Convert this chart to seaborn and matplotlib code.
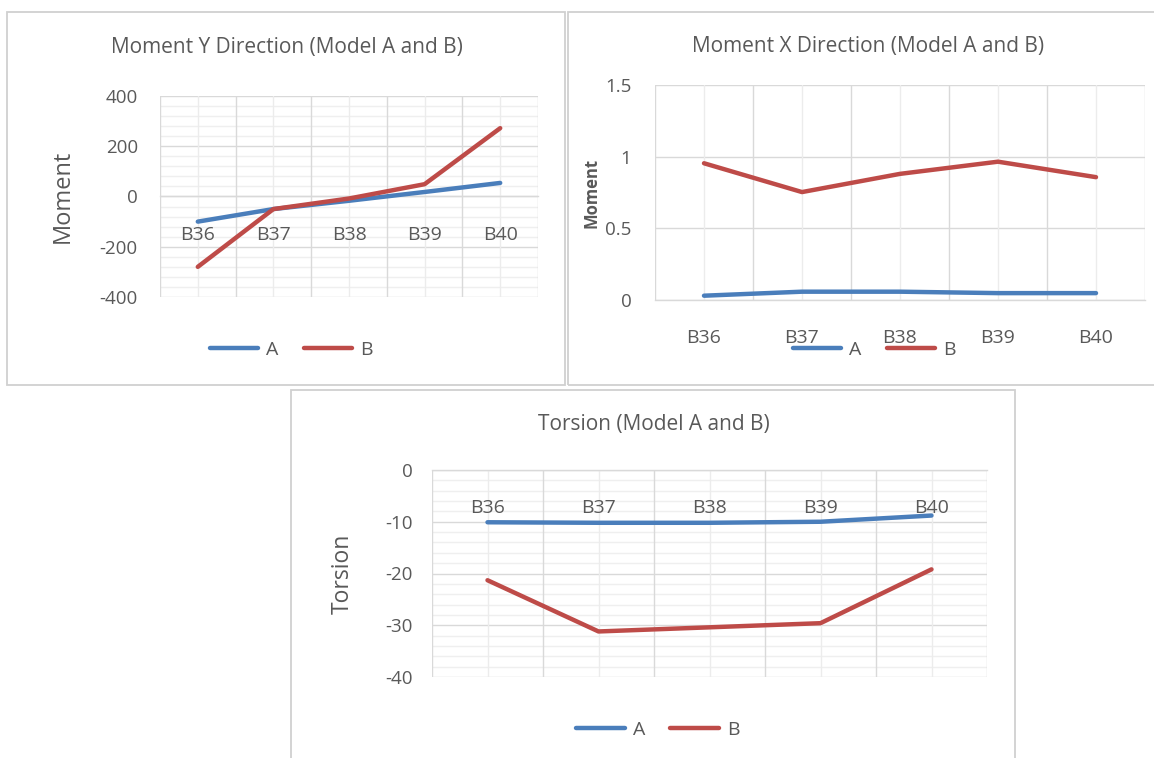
import numpy as np
import pandas as pd
import matplotlib
matplotlib.use("Agg")
import matplotlib.pyplot as plt
import seaborn as sns
from matplotlib.patches import Rectangle
from matplotlib.ticker import MultipleLocator, FixedLocator, FuncFormatter

# ---------------- data ----------------
beams = ["B36", "B37", "B38", "B39", "B40"]

moment_y_a = [-100, -50, -17, 18, 54]
moment_y_b = [-280, -50, -8, 49, 272]

moment_x_a = [0.03, 0.058, 0.058, 0.048, 0.048]
moment_x_b = [0.954, 0.753, 0.88, 0.965, 0.857]

torsion_a = [-10.1, -10.2, -10.2, -10.0, -8.8]
torsion_b = [-21.3, -31.2, -30.4, -29.6, -19.2]

BLUE = "#4a7ebb"
RED = "#be4b48"
TXT = "#595959"

sns.set_theme(style="white")
plt.rcParams["font.family"] = ["Open Sans", "DejaVu Sans"]

W, H = 1154, 758
fig = plt.figure(figsize=(W / 100, H / 100), dpi=100)


def px_rect(x0, y0, x1, y1):
    return [x0 / W, 1 - y1 / H, (x1 - x0) / W, (y1 - y0) / H]


# panel borders
for (x0, y0, x1, y1) in [(7, 12, 565, 385), (568, 12, 1160, 385), (291, 390, 1015, 762)]:
    r = px_rect(x0, y0, x1, y1)
    fig.add_artist(Rectangle((r[0], r[1]), r[2], r[3], transform=fig.transFigure,
                             fill=False, edgecolor="#d0d0d0", lw=1.3))


def make_panel(rect, a, b, title, title_xy, ylabel, ylabel_x, ylabel_kw,
               ylim, ymajor, yminor, legend_xy, ypad):
    ax = fig.add_axes(px_rect(*rect))
    df = pd.DataFrame({
        "beam": beams * 2,
        "value": list(a) + list(b),
        "model": ["A"] * len(a) + ["B"] * len(b),
    })
    sns.lineplot(data=df, x="beam", y="value", hue="model", sort=False,
                 palette={"A": BLUE, "B": RED}, lw=3.2, ax=ax, zorder=3)
    ax.set_xlim(-0.5, len(beams) - 0.5)
    ax.set_ylim(*ylim)
    ax.xaxis.set_minor_locator(FixedLocator(np.arange(-0.5, len(beams), 1.0)))
    ax.yaxis.set_major_locator(MultipleLocator(ymajor))
    if yminor:
        ax.yaxis.set_minor_locator(MultipleLocator(yminor))
        ax.grid(which="minor", axis="y", color="#efefef", lw=1)
    ax.grid(which="major", axis="y", color="#d9d9d9", lw=1)
    ax.grid(which="major", axis="x", color="#ececec", lw=1)
    ax.grid(which="minor", axis="x", color="#d9d9d9", lw=1)
    ax.set_axisbelow(True)
    # category labels sit on top of the horizontal gridlines
    ax.xaxis.set_zorder(1.0)
    ax.yaxis.set_major_formatter(FuncFormatter(lambda v, p: f"{v:g}"))

    for s in ["top", "right", "left"]:
        ax.spines[s].set_visible(False)
    ax.spines["bottom"].set_position(("data", 0))
    ax.spines["bottom"].set_color("#d9d9d9")
    ax.spines["bottom"].set_linewidth(1)

    ax.tick_params(axis="x", which="both", length=0, pad=21, labelsize=14, labelcolor=TXT)
    ax.tick_params(axis="y", which="both", length=0, pad=ypad, labelsize=13.5, labelcolor=TXT)
    ax.set_xlabel("")
    ax.set_ylabel(ylabel, color=TXT, **ylabel_kw)
    ax.yaxis.set_label_coords(ylabel_x, 0.5)

    ax.text(title_xy[0], title_xy[1], title, transform=ax.transAxes,
            ha="center", va="center", fontsize=15, color=TXT)

    handles, labels = ax.get_legend_handles_labels()
    ax.legend(handles, labels, loc="center", bbox_to_anchor=legend_xy, ncol=2,
              frameon=False, handlelength=2.5, handletextpad=0.4,
              columnspacing=1.3, fontsize=14, labelcolor=TXT)
    return ax


make_panel((160, 96, 538, 297), moment_y_a, moment_y_b,
           "Moment Y Direction (Model A and B)", (0.336, 1.24),
           "Moment", -0.225, dict(fontsize=17),
           (-400, 400), 200, 40, (0.347, -0.264), 16)

make_panel((655, 85, 1145, 300), moment_x_a, moment_x_b,
           "Moment X Direction (Model A and B)", (0.435, 1.18),
           "Moment", -0.112, dict(fontsize=12, fontweight="bold"),
           (0, 1.5), 0.5, None, (0.447, -0.233), 17)

make_panel((432, 470, 987, 677), torsion_a, torsion_b,
           "Torsion (Model A and B)", (0.40, 1.22),
           "Torsion", -0.139, dict(fontsize=16.5),
           (-40, 0), 10, 2, (0.407, -0.256), 14)

fig.savefig("out.png", dpi=100, facecolor="white")
